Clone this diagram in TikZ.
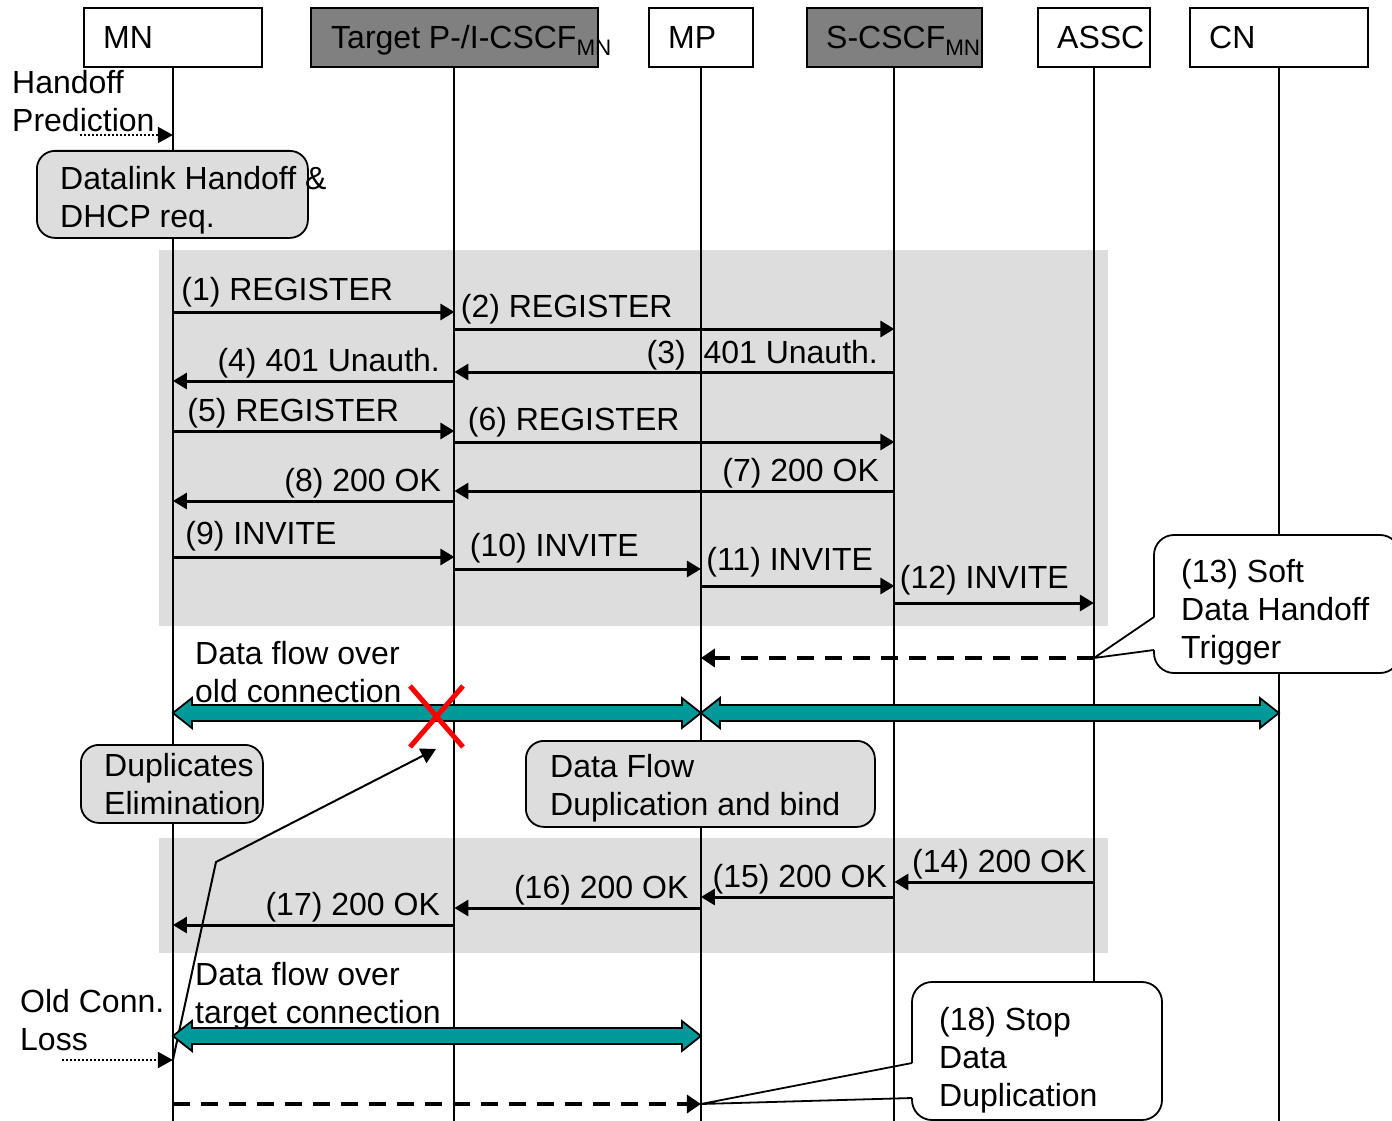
\documentclass[tikz,border=0pt]{standalone}
\usepackage{fontspec}
\setmainfont{Liberation Sans}
\usetikzlibrary{shapes,arrows.meta,calc}
\definecolor{hdgray}{HTML}{808080}
\definecolor{bggray}{HTML}{DDDDDD}
\definecolor{flowteal}{HTML}{009999}

\begin{document}
\begin{tikzpicture}[x=1pt,y=-1pt,
		every node/.style={font=\fontsize{32}{38}\selectfont,inner sep=0pt},
		entity/.style={rectangle,draw,line width=1.8pt,minimum height=59pt,anchor=north west},
		shaded/.style={fill=hdgray},
		life/.style={line width=2pt},
		msg/.style={-{Triangle[length=14pt,width=16pt]},line width=3pt},
		fwd/.style={pos=0,anchor=base west,xshift=#1,yshift=12pt},
		bwd/.style={pos=0,anchor=base east,xshift=-#1,yshift=10pt},
		trig/.style={-{Triangle[length=14pt,width=18pt]},line width=4pt,dash pattern=on 17pt off 11pt},
		hint/.style={-{Triangle[length=15pt,width=16pt]},line width=2pt,dotted},
		note/.style={rectangle,rounded corners=18pt,draw,line width=1.8pt,fill=bggray,anchor=north west},
		callout/.style={draw,line width=1.8pt,fill=white,rounded corners=20pt},
		cross/.style={red,line width=5pt},
		flow/.style={draw=black,fill=flowteal,line width=1.8pt,
			to path={(\tikztostart) -- ++(19,-15) -- ++(0,7) -- ($(\tikztotarget)+(-19,-8)$) -- ++(0,-7)
				-- (\tikztotarget) -- ++(-19,15) -- ++(0,-7) -- ($(\tikztostart)+(19,8)$) -- ++(0,7) -- cycle}}]
			\useasboundingbox (0,0) rectangle (1392,1121);
			\fill[bggray] (159,250) rectangle (1108,626);
			\fill[bggray] (159,838) rectangle (1108,953);

			\node[entity,minimum width=178pt] (mn) at (83,7) {};
			\node[entity,shaded,minimum width=287pt] (tgt) at (310,7) {};
			\node[entity,minimum width=104pt] (mp) at (648,7) {};
			\node[entity,shaded,minimum width=175pt] (scscf) at (806,7) {};
			\node[entity,minimum width=112pt] (assc) at (1037,7) {};
			\node[entity,minimum width=178pt] (cn) at (1189,7) {};
			\node[anchor=base west] at ([xshift=20pt,yshift=-11.5pt]mn.west) {MN};
			\node[anchor=base west] at ([xshift=21pt,yshift=-11.5pt]tgt.west) {Target P-/I-CSCF\textsubscript{MN}};
			\node[anchor=base west] at ([xshift=20pt,yshift=-11.5pt]mp.west) {MP};
			\node[anchor=base west] at ([xshift=20pt,yshift=-11.5pt]scscf.west) {S-CSCF\textsubscript{MN}};
			\node[anchor=base west] at ([xshift=20pt,yshift=-11.5pt]assc.west) {ASSC};
			\node[anchor=base west] at ([xshift=20pt,yshift=-11.5pt]cn.west) {CN};

			\foreach \n in {mn,tgt,mp,scscf,assc,cn}
				\draw[life] (\n.south) -- (\n |- 0,1121);

			\node[anchor=west,align=left] (hpred) at (12,101) {Handoff\\Prediction};
			\coordinate (hp) at (80,135);
			\path[hint,draw] (hp) -- (mn |- hp);
			\node[note,minimum width=271pt,minimum height=87pt] (dl) at (36,150) {};
			\node[anchor=west,align=left] at ([xshift=24pt,yshift=-5.5pt]dl.west) {Datalink Handoff \&\\DHCP req.};

			\path[msg,draw] (mn |- 0,312) -- node[fwd=7pt] {(1) REGISTER} (tgt |- 0,312);
			\path[msg,draw] (tgt |- 0,329) -- node[fwd=5pt] {(2) REGISTER} (scscf |- 0,329);
			\path[msg,draw] (scscf |- 0,372) -- node[bwd=15pt,yshift=-1pt] {(3)\ \ 401 Unauth.} (tgt |- 0,372);
			\path[msg,draw] (tgt |- 0,381) -- node[bwd=13pt] {(4) 401 Unauth.} (mn |- 0,381);
			\path[msg,draw] (mn |- 0,431) -- node[fwd=13pt,yshift=-2pt] {(5) REGISTER} (tgt |- 0,431);
			\path[msg,draw] (tgt |- 0,442) -- node[fwd=12pt] {(6) REGISTER} (scscf |- 0,442);
			\path[msg,draw] (scscf |- 0,491) -- node[bwd=14pt] {(7) 200 OK} (tgt |- 0,491);
			\path[msg,draw] (tgt |- 0,501) -- node[bwd=12pt] {(8) 200 OK} (mn |- 0,501);
			\path[msg,draw] (mn |- 0,557) -- node[fwd=11pt,yshift=1pt] {(9) INVITE} (tgt |- 0,557);
			\path[msg,draw] (tgt |- 0,569) -- node[fwd=14pt,yshift=1pt] {(10) INVITE} (mp |- 0,569);
			\path[msg,draw] (mp |- 0,586) -- node[fwd=4pt,yshift=4pt] {(11) INVITE} (scscf |- 0,586);
			\path[msg,draw] (scscf |- 0,603) -- node[fwd=4pt,yshift=3pt] {(12) INVITE} (assc |- 0,603);

			\path[trig,draw] (assc |- 0,658) -- (mp |- 0,658);
			\path[callout] (1154,650) -- (1154,673) -- (1400,673) -- (1400,535) -- (1154,535) -- (1154,617);
			\draw[line width=1.8pt] (1154,617) -- (assc |- 0,658) -- (1154,650);
			\node[anchor=west,align=left] (soft) at (1181,612) {(13) Soft\\Data Handoff\\Trigger};

			\node[anchor=west,align=left] (oldtxt) at (195,672) {Data flow over\\old connection};
			\draw[flow] (mn |- 0,713) to (mp |- 0,713);
			\draw[flow] (mp |- 0,713) to (cn |- 0,713);
			\coordinate (cut) at (436,749);
			\draw[cross] (410,686) -- (463,747) (463,686) -- (410,747);

			\node[note,minimum width=182pt,minimum height=78pt] (dup) at (80,744) {};
			\node[anchor=west,align=left] at ([xshift=24pt]dup.west) {Duplicates\\Elimination};
			\node[note,minimum width=349pt,minimum height=86pt] (dfd) at (525,740) {};
			\node[anchor=west,align=left] at ([xshift=25pt,yshift=-4pt]dfd.west) {Data Flow\\Duplication and bind};

			\path[msg,draw] (assc |- 0,882) -- node[bwd=6pt] {(14) 200 OK} (scscf |- 0,882);
			\path[msg,draw] (scscf |- 0,897) -- node[bwd=6pt] {(15) 200 OK} (mp |- 0,897);
			\path[msg,draw] (mp |- 0,908) -- node[bwd=11pt] {(16) 200 OK} (tgt |- 0,908);
			\path[msg,draw] (tgt |- 0,925) -- node[bwd=13pt] {(17) 200 OK} (mn |- 0,925);

			\node[anchor=west,align=left] (oldloss) at (20,1020) {Old Conn.\\Loss};
			\coordinate (loss) at (62,1060);
			\path[hint,draw] (loss) -- (mn |- loss);
			\draw[-{Triangle[length=15pt,width=16pt]},line width=2pt] (mn |- loss) -- (216,862) -- (cut);

			\node[anchor=west,align=left] (newtxt) at (195,996) {Data flow over\\target connection};
			\draw[flow] (mn |- 0,1036) to (mp |- 0,1036);

			\path[trig,draw] (mn |- 0,1104) -- (mp |- 0,1104);
			\path[callout] (912,1098) -- (912,1120) -- (1162,1120) -- (1162,982) -- (912,982) -- (912,1063);
			\draw[line width=1.8pt] (912,1063) -- (mp |- 0,1104) -- (912,1098);
			\node[anchor=west,align=left] (stop) at (939,1060) {(18) Stop\\Data\\Duplication};
		\end{tikzpicture}
\end{document}
